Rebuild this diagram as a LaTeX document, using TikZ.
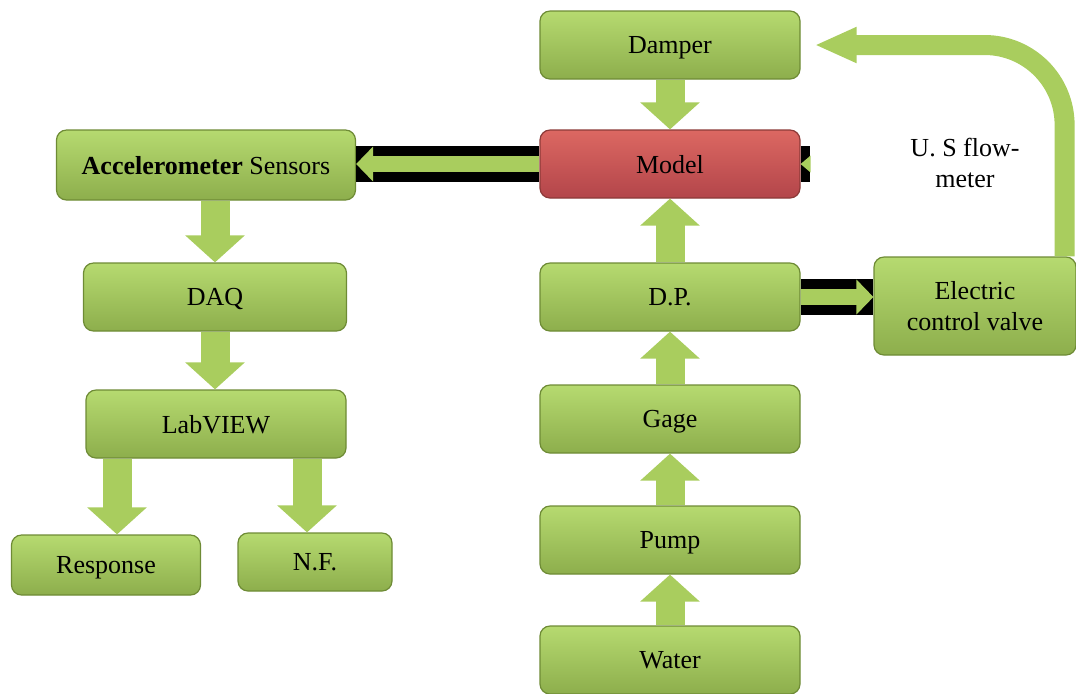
\documentclass[tikz,border=0pt]{standalone}
\usepackage{fontspec}
\setmainfont{Liberation Serif}
\usetikzlibrary{arrows.meta,calc}

\definecolor{boxgreen}{HTML}{8DAE4C}
\definecolor{boxmid}{HTML}{A3C95C}
\definecolor{boxlight}{HTML}{B6DA70}
\definecolor{boxedge}{HTML}{6E8B35}
\definecolor{boxred}{HTML}{B3454A}
\definecolor{boxredmid}{HTML}{CB504F}
\definecolor{boxredlight}{HTML}{DC6862}
\definecolor{redge}{HTML}{8C3A38}
\definecolor{arrowgreen}{HTML}{A9CD5E}

\begin{document}
\begin{tikzpicture}[
    x=0.5pt, y=-0.5pt,
    block/.style={rectangle, rounded corners=5pt, draw=boxedge, line width=0.6pt, top color=boxlight, middle color=boxmid, bottom color=boxgreen, minimum width=130pt, minimum height=34pt, inner sep=2pt, text depth=0pt, font=\fontsize{13}{15.5}\selectfont, align=center},
    redblock/.style={block, draw=redge, top color=boxredlight, middle color=boxredmid, bottom color=boxred},
    flow/.style={arrowgreen, line width=14.5pt, -{Triangle[length=13.5pt, width=29pt]}},
    thinflow/.style={arrowgreen, line width=8pt, -{Triangle[length=8.5pt, width=17pt]}},
    band/.style={black, line width=18pt},
    loopflow/.style={arrowgreen, line width=10pt, rounded corners=40pt, -{Triangle[length=21pt, width=16.5pt]}}
  ]
  \useasboundingbox (0,0) rectangle (1076,693);

  % measuring line
  \node[block] (damper) at (670,45) {Damper};
  \node[redblock] (model) at (670,164) {Model};
  \node[block] (dp) at (670,297) {D.P.};
  \node[block] (gage) at (670,419) {Gage};
  \node[block] (pump) at (670,540) {Pump};
  \node[block] (water) at (670,660) {Water};
  \node[block, minimum width=101pt, minimum height=49pt] (valve) at (975,306) {Electric\\control valve};
  \node[font=\fontsize{13}{15.5}\selectfont, align=center] (flowmeter) at (965,163) {U. S flow-\\meter};

  % acquisition line
  \node[block, minimum width=149.5pt, minimum height=35pt] (sensors) at (206,165) {\textbf{Accelerometer} Sensors};
  \node[block, minimum width=131.5pt] (daq) at (215,297) {DAQ};
  \node[block] (labview) at (216,424) {LabVIEW};
  \node[block, minimum width=94.5pt, minimum height=30pt] (response) at (106,565) {Response};
  \node[block, minimum width=77pt, minimum height=29pt] (nf) at (315,562) {N.F.};

  \draw[flow] (damper.south) -- (model.north);
  \draw[flow] (dp.north) -- (model.south);
  \draw[flow] (gage.north) -- (dp.south);
  \draw[flow] (pump.north) -- (gage.south);
  \draw[flow] (water.north) -- (pump.south);

  \draw[band] (model.west) -- (model.west -| sensors.east);
  \draw[thinflow] (model.west) -- (model.west -| sensors.east);
  \coordinate (mright) at (810,164);
  \draw[band] (model.east) -- (mright);
  \fill[arrowgreen] (model.east) -- ++(10,-8.5) -- ++(0,17) -- cycle;

  \draw[band] (dp.east) -- (dp.east -| valve.west);
  \draw[thinflow] (dp.east) -- (dp.east -| valve.west);
  \draw[loopflow] ([xshift=-6pt]valve.north east) |- ([xshift=7pt]damper.east);

  \draw[flow] (sensors.south -| daq.north) -- (daq.north);
  \draw[flow] (daq.south) -- (daq.south |- labview.north);
  \draw[flow] ($(labview.south -| response.north)+(11,0)$) -- ($(response.north)+(11,0)$);
  \draw[flow] ($(labview.south -| nf.north)+(-8,0)$) -- ($(nf.north)+(-8,0)$);
\end{tikzpicture}
\end{document}
